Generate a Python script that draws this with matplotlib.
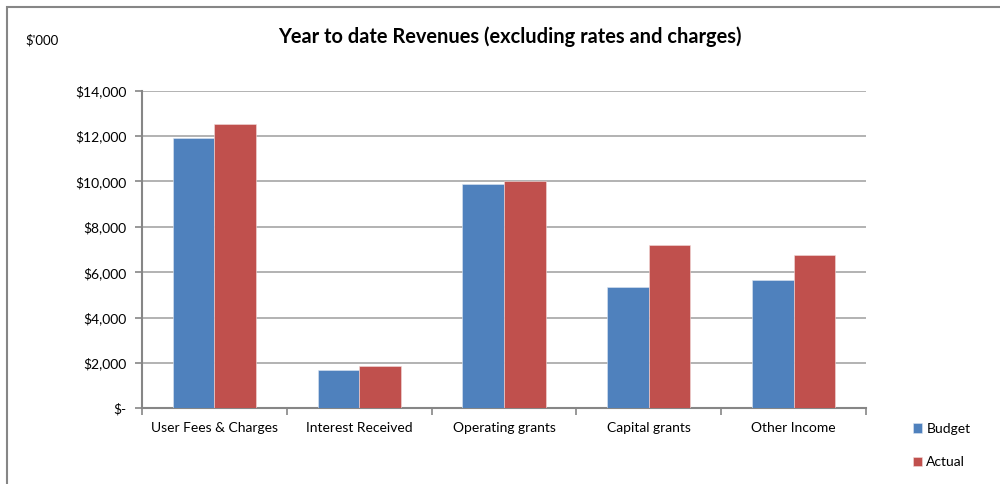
import matplotlib
matplotlib.use('Agg')
import matplotlib.pyplot as plt
import numpy as np
from matplotlib.patches import Rectangle
from matplotlib.ticker import FuncFormatter

categories = ['User Fees & Charges', 'Interest Received', 'Operating grants',
              'Capital grants', 'Other Income']
budget = [11930, 1710, 9890, 5370, 5660]
actual = [12550, 1870, 10020, 7190, 6750]

plt.rcParams['font.family'] = ['Lato', 'DejaVu Sans']

fig = plt.figure(figsize=(10, 4.84), dpi=100)
ax = fig.add_axes([0.142, 0.156, 0.724, 0.6566])

# chart area border (top and left visible, rest cropped)
fig.patches.append(Rectangle((0.007, -0.1), 1.2, 1.1 - 0.0145, transform=fig.transFigure,
                             fill=False, edgecolor='#868686', linewidth=1.5))

x = np.arange(len(categories))
w = 0.287
ax.bar(x - w / 2, budget, w, color='#4F81BD', edgecolor='#dce6f2', linewidth=0.4, label='Budget', zorder=3)
ax.bar(x + w / 2, actual, w, color='#C0504D', edgecolor='#f2dcdb', linewidth=0.4, label='Actual', zorder=3)

ax.set_xlim(-0.5, len(categories) - 0.5)
ax.set_ylim(0, 14000)
ax.set_yticks(np.arange(0, 14001, 2000))
ax.yaxis.set_major_formatter(FuncFormatter(lambda v, p: '$-' if v == 0 else '${:,.0f}'.format(v)))
ax.grid(axis='y', color='#a6a6a6', linewidth=1.2, zorder=0)

ax.set_xticks(x)
ax.set_xticklabels(categories)
ax.set_xticks(np.arange(-0.5, len(categories)), minor=True)
ax.tick_params(axis='x', which='major', length=0, pad=10, labelsize=10)
ax.tick_params(axis='x', which='minor', length=5, width=1.2, color='#868686', direction='out')
ax.tick_params(axis='y', length=5, width=1.2, color='#868686', labelsize=10, pad=6)

for s in ['top', 'right']:
    ax.spines[s].set_visible(False)
for s in ['left', 'bottom']:
    ax.spines[s].set_color('#868686')
    ax.spines[s].set_linewidth(1.5)

fig.text(0.51, 0.925, 'Year to date Revenues (excluding rates and charges)',
         ha='center', va='center', fontsize=14.4, fontweight='bold')
fig.text(0.025, 0.917, "$'000", ha='left', va='center', fontsize=9.5)

ax.legend(loc='upper left', bbox_to_anchor=(0.900, 0.152), bbox_transform=fig.transFigure,
          frameon=False, fontsize=10, handlelength=0.7, handleheight=0.7,
          handletextpad=0.3, labelspacing=1.55)

fig.savefig('out.png', dpi=100)
